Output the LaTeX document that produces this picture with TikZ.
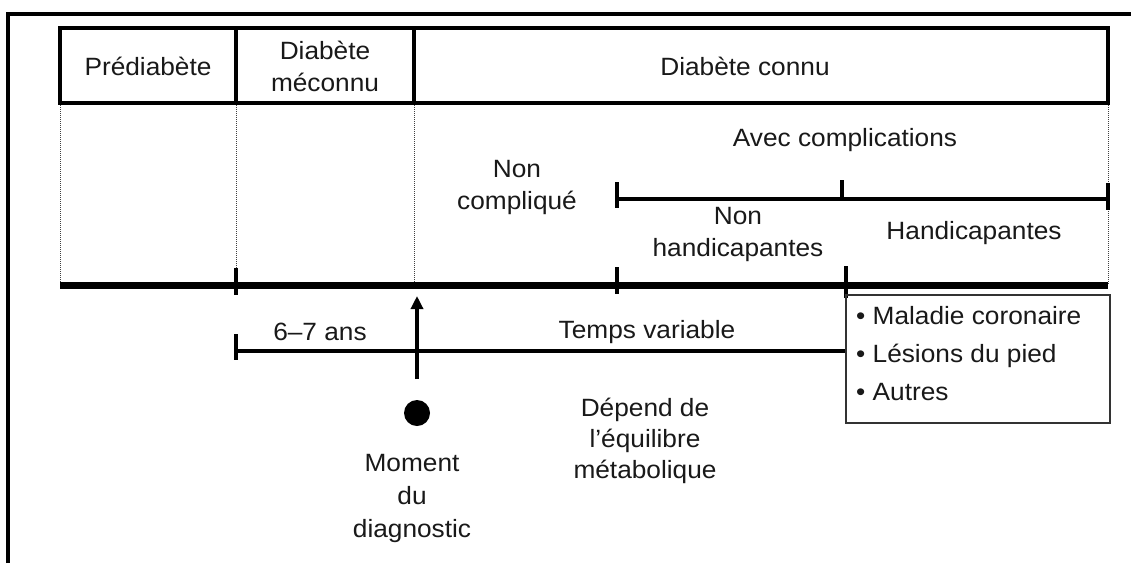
\documentclass[tikz,border=0pt]{standalone}
\usepackage{fontspec}
\setmainfont{Liberation Sans}[FakeStretch=1.05]
\usetikzlibrary{arrows.meta}
\begin{document}
\begin{tikzpicture}[x=1pt,y=-1pt,
  txt/.style={font=\fontsize{25}{32}\selectfont, align=center, inner sep=0pt, text=black!90},
  frameline/.style={line width=3.6pt},
  boxline/.style={line width=3.2pt},
  guide/.style={line width=1pt, densely dotted, black!75},
  mainline/.style={line width=7pt},
  bar/.style={line width=4.4pt},
  tick/.style={line width=3.6pt},
  ]
\useasboundingbox (0,0) rectangle (1131,563);
\fill[white] (0,0) rectangle (1131,563);
% outer frame (partially visible)
\draw[frameline] (8,563) -- (8,14) -- (1131,14);
% header coordinates
\coordinate (h0) at (60,28);
\coordinate (h1) at (1108,103);
\coordinate (d1t) at (236,28);
\coordinate (d1b) at (236,103);
\coordinate (d2t) at (414,28);
\coordinate (d2b) at (414,103);
% dotted guides
\coordinate (g0) at (60,285);
\coordinate (g1) at (236,285);
\coordinate (g2) at (414,285);
\coordinate (g3) at (1108,285);
\draw[guide] (60,103) -- (g0);
\draw[guide] (d1b) -- (g1);
\draw[guide] (d2b) -- (g2);
\draw[guide] (1108,103) -- (g3);
% header table
\draw[boxline] (h0) rectangle (h1);
\draw[boxline] (d1t) -- (d1b);
\draw[boxline] (d2t) -- (d2b);
\node[txt] (pre) at (148,66) {Prédiabète};
\node[txt] (mec) at (325,66) {Diabète\\méconnu};
\node[txt] (con) at (745,66) {Diabète connu};
% main timeline
\draw[mainline] (g0) -- (g3);
\coordinate (t1a) at (236,268); \coordinate (t1b) at (236,295);
\coordinate (t2a) at (617,267); \coordinate (t2b) at (617,294);
\coordinate (t3a) at (846,266); \coordinate (t3b) at (846,298);
\draw[tick] (t1a) -- (t1b);
\draw[tick] (t2a) -- (t2b);
\draw[tick] (t3a) -- (t3b);
% upper complications bar
\coordinate (u0) at (617,199);
\coordinate (u1) at (1108,199);
\draw[bar] (u0) -- (u1);
\coordinate (ut0a) at (617,182); \coordinate (ut0b) at (617,208);
\coordinate (ut1a) at (842,180); \coordinate (ut1b) at (842,199);
\coordinate (ut2a) at (1108,183); \coordinate (ut2b) at (1108,210);
\draw[tick] (ut0a) -- (ut0b);
\draw[tick] (ut1a) -- (ut1b);
\draw[tick] (ut2a) -- (ut2b);
\node[txt] (avec) at (845,140) {Avec complications};
\node[txt] (noncomp) at (517,187) {Non\\compliqué};
\node[txt] (nonhand) at (738,234) {Non\\handicapantes};
\node[txt] (hand) at (974,233) {Handicapantes};
% list box
\node[draw, line width=1.6pt, black!80, minimum width=264pt, minimum height=128pt, inner sep=0pt] (box) at (978,359) {};
\node[txt, align=left, anchor=north west, font=\fontsize{25}{38}\selectfont] (list) at (856,306)
  {\textbullet\ Maladie coronaire\\\textbullet\ Lésions du pied\\\textbullet\ Autres};
% lower bar
\coordinate (l0) at (236,351);
\draw[bar] (l0) -- (box.west |- l0);
\coordinate (lt0a) at (236,334); \coordinate (lt0b) at (236,360);
\draw[tick] (lt0a) -- (lt0b);
\node[txt] (ans) at (320,332) {6–7 ans};
\node[txt] (temps) at (647,332) {Temps variable};
% diagnosis
\coordinate (dot) at (417,413);
\fill (dot) circle (13);
\coordinate (arrS) at (417,379);
\coordinate (arrE) at (417,296);
\draw[line width=3.4pt, -{Triangle[length=13pt,width=12pt]}] (arrS) -- (arrE);
\node[txt, font=\fontsize{25}{33}\selectfont] (moment) at (412,498) {Moment\\du\\diagnostic};
\node[txt, font=\fontsize{25}{31}\selectfont] (depend) at (645,441) {Dépend de\\l’équilibre\\métabolique};
\end{tikzpicture}
\end{document}
